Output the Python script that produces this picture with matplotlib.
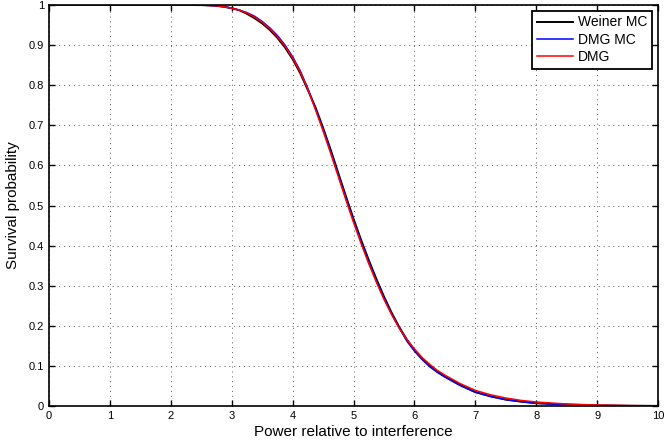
import matplotlib
matplotlib.use("Agg")
import matplotlib.pyplot as plt

plt.rcParams['font.family'] = ['Liberation Sans', 'DejaVu Sans']

# values
power = [0, 0.5, 1, 1.5, 2, 2.25, 2.5, 2.625, 2.75, 2.875,
         3, 3.125, 3.25, 3.375, 3.5, 3.625, 3.75, 3.875,
         4, 4.125, 4.25, 4.375, 4.5, 4.625, 4.75, 4.875,
         5, 5.125, 5.25, 5.375, 5.5, 5.625, 5.75, 5.875,
         6, 6.125, 6.25, 6.375, 6.5, 6.75, 7, 7.25, 7.5, 7.75, 8,
         8.5, 9, 9.5, 10]
weiner_mc = [1, 1, 1, 1, 1, 1, 0.9997, 0.999, 0.998, 0.9955,
             0.992, 0.987, 0.978, 0.967, 0.954, 0.938, 0.918, 0.894,
             0.865, 0.830, 0.788, 0.745, 0.694, 0.639, 0.581, 0.523,
             0.467, 0.414, 0.364, 0.317, 0.273, 0.233, 0.197, 0.166,
             0.140, 0.119, 0.101, 0.086, 0.074, 0.053, 0.035, 0.024, 0.016, 0.011, 0.007,
             0.0035, 0.0015, 0.0007, 0.0003]
dmg_mc = [1, 1, 1, 1, 1, 1, 0.9997, 0.999, 0.998, 0.9955,
          0.992, 0.987, 0.981, 0.972, 0.959, 0.943, 0.924, 0.900,
          0.871, 0.836, 0.792, 0.742, 0.690, 0.634, 0.576, 0.518,
          0.462, 0.409, 0.359, 0.312, 0.269, 0.230, 0.195, 0.162,
          0.137, 0.116, 0.098, 0.084, 0.072, 0.051, 0.034, 0.024, 0.016, 0.011, 0.007,
          0.0035, 0.0015, 0.0007, 0.0003]
dmg = [1, 1, 1, 1, 1, 1, 0.9997, 0.999, 0.998, 0.9955,
       0.992, 0.987, 0.980, 0.970, 0.957, 0.941, 0.921, 0.897,
       0.868, 0.833, 0.790, 0.739, 0.686, 0.630, 0.572, 0.514,
       0.458, 0.405, 0.355, 0.309, 0.266, 0.228, 0.194, 0.166,
       0.142, 0.121, 0.104, 0.089, 0.077, 0.056, 0.039, 0.028, 0.020, 0.014, 0.010,
       0.005, 0.0025, 0.001, 0.0005]

fig = plt.figure(figsize=(6.64, 4.45), dpi=100)
ax = fig.add_axes([0.0738, 0.0876, 0.9172, 0.9012])

ax.plot(power, weiner_mc, color='black', lw=1.4, label='Weiner MC')
ax.plot(power, dmg_mc, color='blue', lw=1.1, label='DMG MC')
ax.plot(power, dmg, color='red', lw=1.1, label='DMG')

ax.set_xlim(0, 10)
ax.set_ylim(0, 1)
ax.set_xticks(range(0, 11))
ax.set_yticks([i / 10 for i in range(11)])
ax.set_yticklabels(['0'] + ['0.%d' % i for i in range(1, 10)] + ['1'])
ax.tick_params(direction='in', top=True, right=True, length=4, width=1,
               labelsize=8)
ax.grid(True, linestyle=(0, (1, 4)), color='0.35', lw=0.7)
for s in ax.spines.values():
    s.set_linewidth(1.2)

ax.set_xlabel('Power relative to interference', fontsize=11, labelpad=3)
ax.set_ylabel('Survival probability', fontsize=11, labelpad=6)

leg = ax.legend(loc='upper right', fontsize=10, fancybox=False,
                edgecolor='black', framealpha=1, borderaxespad=0.4,
                handlelength=2.6, handletextpad=0.4, borderpad=0.35,
                labelspacing=0.25)
leg.get_frame().set_linewidth(1.3)

fig.savefig('out.png', dpi=100)
